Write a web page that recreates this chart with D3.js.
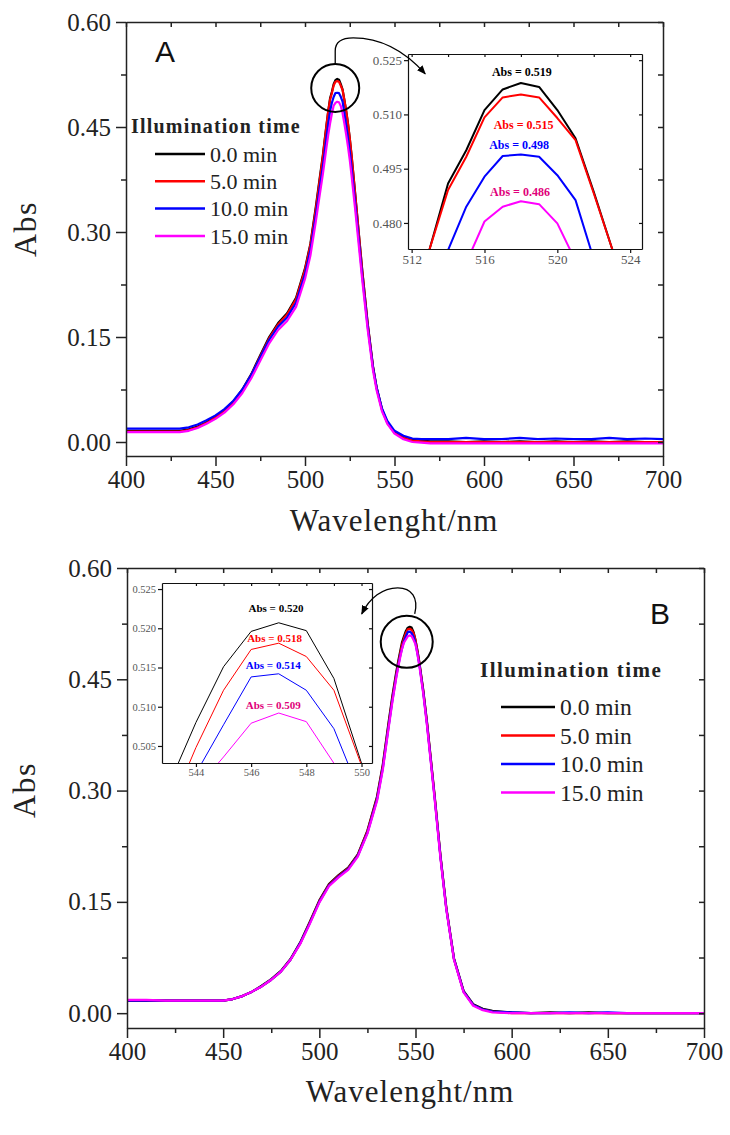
<!DOCTYPE html>
<html><head><meta charset="utf-8">
<script src="https://cdn.jsdelivr.net/npm/d3@7"></script>
<style>body{margin:0;background:#fff;} svg{display:block;}</style>
</head><body>
<svg id="chart" width="730" height="1135"></svg>
<script>
// ---------------- DATA ----------------
const seriesNames = ["0.0 min", "5.0 min", "10.0 min", "15.0 min"];
const seriesColors = ["#000000", "#ff0000", "#0000ff", "#ff00ff"];
const annotColors = ["#000000", "#ff0000", "#0000ff", "#e0007a"];
const legendTitle = "Illumination time";

const xTicks = [400, 450, 500, 550, 600, 650, 700];
const xMinor = [425, 475, 525, 575, 625, 675];
const yTicks = [0.00, 0.15, 0.30, 0.45, 0.60];
const yMinor = [0.075, 0.225, 0.375, 0.525];

// Panel A spectra
const wlA = [400,410,420,430,435,440,445,450,455,460,465,470,475,480,485,490,495,500,503,506,508,510,511,512,
  513,514,515,516,517,518,519,520,521,522,523,524,525,526,528,530,532,535,538,540,543,546,550,555,560,565,570,
  580,590,600,610,620,630,640,650,660,670,680,690,700];
const absA0 = [.016,.016,.016,.016,.018,.022,.028,.036,.046,.058,.075,.097,.124,.150,.170,.184,.206,.248,.283,.335,.373,.410,.432,.453,
  .473,.4909,.5001,.5112,.5169,.5187,.5176,.5112,.5034,.4886,.473,.455,.434,.410,.356,.300,.245,.170,.108,.078,.047,.028,.014,.007,.003,.002,.001,
  .001,.000,.001,.000,.001,.000,.001,.000,.001,.000,.001,.000,.000];
const absA5 = [.015,.015,.015,.015,.017,.021,.027,.035,.045,.057,.074,.096,.122,.148,.168,.182,.204,.246,.281,.332,.370,.408,.430,.452,
  .473,.4891,.4983,.5092,.5147,.5155,.5147,.5090,.5029,.4882,.473,.455,.434,.410,.355,.299,.244,.169,.107,.077,.046,.027,.013,.006,.002,.001,.000,
  .000,.000,.000,.000,.000,.000,.000,.000,.000,.000,.000,.000,.000];
const absA10 = [.019,.019,.019,.019,.021,.025,.031,.038,.047,.059,.075,.096,.121,.146,.165,.178,.199,.240,.274,.323,.359,.394,.414,.436,
  .455,.4725,.4845,.4928,.4985,.4989,.4983,.4932,.4863,.470,.453,.435,.415,.392,.342,.290,.237,.166,.106,.078,.048,.030,.016,.009,.005,.004,.004,
  .004,.006,.004,.004,.006,.004,.005,.004,.004,.006,.004,.005,.004];
const absA15 = [.014,.014,.014,.014,.016,.020,.026,.033,.042,.054,.070,.091,.116,.141,.160,.173,.193,.233,.266,.314,.349,.383,.402,.421,
  .439,.455,.469,.4804,.4845,.4860,.4852,.4799,.4695,.455,.439,.422,.403,.381,.333,.282,.231,.161,.102,.074,.044,.026,.012,.004,.000,-.001,-.002,
  -.002,-.002,-.002,-.002,-.002,-.002,-.002,-.002,-.002,-.002,-.002,-.002,-.002];

// Panel B spectra
const wlB = [400,410,420,430,440,450,455,460,465,470,475,480,485,490,495,500,505,510,515,520,525,530,533,536,538,540,
  541,542,543,544,545,546,547,548,549,550,551,552,554,556,558,560,563,566,570,575,580,585,590,600,
  610,620,630,640,650,660,670,680,690,700];
const absB0 = [.017,.017,.017,.017,.017,.017,.019,.023,.029,.037,.046,.057,.073,.095,.123,.152,.174,.186,.196,.214,.246,.292,.335,.392,.428,.460,
  .474,.487,.4999,.5080,.5151,.5196,.5207,.5197,.5136,.5028,.489,.473,.436,.392,.342,.292,.212,.143,.074,.030,.012,.006,.003,.001,
  .000,.001,.000,.001,.000,.000,.000,.000,.000,.000];
const absB5 = [.017,.017,.017,.017,.017,.017,.019,.023,.029,.036,.045,.056,.072,.094,.122,.151,.173,.185,.195,.213,.245,.290,.333,.389,.425,.457,
  .471,.484,.4965,.5048,.5121,.5173,.5181,.5164,.5121,.5025,.488,.472,.435,.391,.341,.291,.211,.142,.073,.029,.011,.005,.002,.000,
  .000,.000,.000,.000,.000,.000,.000,.000,.000,.000];
const absB10 = [.017,.017,.017,.017,.017,.017,.019,.023,.029,.036,.045,.056,.072,.094,.121,.150,.172,.184,.194,.212,.243,.288,.330,.386,.422,.454,
  .468,.481,.4915,.5015,.5077,.5138,.5142,.5121,.5072,.4985,.485,.470,.433,.389,.339,.289,.210,.141,.073,.029,.011,.005,.002,.001,
  .000,.000,.001,.000,.001,.000,.000,.000,.000,.000];
const absB15 = [.018,.018,.017,.017,.017,.017,.019,.023,.029,.036,.045,.056,.072,.093,.120,.149,.171,.183,.193,.211,.242,.286,.328,.384,.420,.452,
  .466,.479,.491,.4995,.5036,.5079,.5092,.5081,.5028,.4970,.484,.468,.431,.387,.337,.287,.208,.140,.072,.028,.010,.004,.001,.000,
  .000,.000,.000,.000,.000,.000,.000,.000,.000,.000];

// Insets
const insetAXTicks = [512, 516, 520, 524];
const insetAXMinor = [514, 518, 522];
const insetAYTicks = [0.480, 0.495, 0.510, 0.525];
const insetBXTicks = [544, 546, 548, 550];
const insetBXMinor = [545, 547, 549];
const insetBYTicks = [0.505, 0.510, 0.515, 0.520, 0.525];
const peakLabelsA = ["Abs = 0.519", "Abs = 0.515", "Abs = 0.498", "Abs = 0.486"];
const peakLabelPosA = [[518.05, 0.5217], [518.15, 0.5071], [517.9, 0.5016], [517.95, 0.4885]];
const peakLabelsB = ["Abs = 0.520", "Abs = 0.518", "Abs = 0.514", "Abs = 0.509"];
const peakLabelPosB = [[546.9, 0.5226], [546.85, 0.5187], [546.8, 0.5153], [546.8, 0.5102]];

// ---------------- DRAW ----------------
const SERIF = "'Liberation Serif','Times New Roman',serif";
const SANS = "'Liberation Sans',Arial,sans-serif";
const svg = d3.select("#chart");
svg.append("rect").attr("width", 730).attr("height", 1135).attr("fill", "#fff");
const defs = svg.append("defs");
defs.append("marker").attr("id", "arrowhead").attr("viewBox", "0 0 10 10")
  .attr("refX", 9).attr("refY", 5).attr("markerWidth", 7).attr("markerHeight", 7)
  .attr("orient", "auto").append("path").attr("d", "M0,1 L10,5 L0,9 z").attr("fill", "#000");

function styleAxis(sel, fs, color) {
  sel.selectAll("path.domain").attr("stroke", "#222").attr("stroke-width", 1.5);
  sel.selectAll(".tick line").attr("stroke", "#222").attr("stroke-width", 1.5);
  sel.selectAll("text").attr("font-family", SERIF).attr("font-size", fs).attr("fill", color || "#222");
}

function drawPanel(p) {
  const g = svg.append("g");
  const x = d3.scaleLinear().domain([400, 700]).range([p.left, p.right]);
  const y = d3.scaleLinear().domain([-0.02, 0.60]).range([p.bottom, p.top]);
  const cid = "clip" + p.id;
  defs.append("clipPath").attr("id", cid).append("rect")
    .attr("x", p.left).attr("y", p.top).attr("width", p.right - p.left).attr("height", p.bottom - p.top);
  const line = d3.line().x(d => x(d[0])).y(d => y(d[1]));
  p.series.forEach((s, i) => {
    g.append("path").datum(p.wl.map((w, j) => [w, s[j]]))
      .attr("d", line).attr("fill", "none").attr("stroke", seriesColors[i])
      .attr("stroke-width", 2.2).attr("stroke-linejoin", "round").attr("clip-path", `url(#${cid})`);
  });
  const ax = g.append("g");
  const left = ax.append("g").attr("transform", `translate(${p.left},0)`)
    .call(d3.axisLeft(y).tickValues(yTicks).tickSize(10).tickSizeOuter(0).tickPadding(5).tickFormat(d3.format(".2f")));
  styleAxis(left, 25);
  const leftMin = ax.append("g").attr("transform", `translate(${p.left},0)`)
    .call(d3.axisLeft(y).tickValues(yMinor).tickSize(5).tickSizeOuter(0).tickFormat(""));
  styleAxis(leftMin, 25); leftMin.select("path.domain").remove();
  const bottom = ax.append("g").attr("transform", `translate(0,${p.bottom})`)
    .call(d3.axisBottom(x).tickValues(xTicks).tickSize(10).tickSizeOuter(0).tickPadding(4).tickFormat(d3.format("d")));
  styleAxis(bottom, 25);
  const bottomMin = ax.append("g").attr("transform", `translate(0,${p.bottom})`)
    .call(d3.axisBottom(x).tickValues(xMinor).tickSize(5).tickSizeOuter(0).tickFormat(""));
  styleAxis(bottomMin, 25); bottomMin.select("path.domain").remove();
  const top = ax.append("g").attr("transform", `translate(0,${p.top})`)
    .call(d3.axisBottom(x).tickValues(xTicks.concat(xMinor)).tickSize(5).tickSizeOuter(0).tickFormat(""));
  styleAxis(top, 25);
  const right = ax.append("g").attr("transform", `translate(${p.right},0)`)
    .call(d3.axisLeft(y).tickValues(yTicks.concat(yMinor)).tickSize(5).tickSizeOuter(0).tickFormat(""));
  styleAxis(right, 25);
  g.append("text").attr("x", p.xTitleX).attr("y", p.xTitleY).attr("text-anchor", "middle")
    .attr("font-family", SERIF).attr("font-size", 31).attr("letter-spacing", 1).attr("fill", "#222").text("Wavelenght/nm");
  g.append("text").attr("transform", `translate(${p.yTitleX},${p.yTitleY}) rotate(-90)`).attr("text-anchor", "middle")
    .attr("font-family", SERIF).attr("font-size", 32).attr("letter-spacing", 1.5).attr("fill", "#222").text("Abs");
  g.append("text").attr("x", p.letterX).attr("y", p.letterY).attr("font-family", SANS).attr("font-size", 30)
    .attr("fill", "#111").text(p.letter);
  const lg = g.append("g");
  lg.append("text").attr("x", p.leg.titleX).attr("y", p.leg.titleY).attr("font-family", SERIF)
    .attr("font-weight", "bold").attr("font-size", p.leg.titleFs).attr("letter-spacing", p.leg.ls).attr("fill", "#222").text(legendTitle);
  seriesNames.forEach((n, i) => {
    const yy = p.leg.y0 + i * p.leg.dy;
    lg.append("line").attr("x1", p.leg.lx0).attr("x2", p.leg.lx1).attr("y1", yy).attr("y2", yy)
      .attr("stroke", seriesColors[i]).attr("stroke-width", 2.5);
    lg.append("text").attr("x", p.leg.lx1 + 5).attr("y", yy).attr("dy", "0.35em").attr("font-family", SERIF)
      .attr("font-size", p.leg.fs).attr("fill", "#222").text(n);
  });
  return {x, y};
}

function drawInset(p, ins) {
  const g = svg.append("g");
  const x = d3.scaleLinear().domain(ins.xd).range([ins.l, ins.r]);
  const y = d3.scaleLinear().domain(ins.yd).range([ins.b, ins.t]);
  g.append("rect").attr("x", ins.l).attr("y", ins.t).attr("width", ins.r - ins.l).attr("height", ins.b - ins.t).attr("fill", "#fff");
  const cid = "iclip" + p.id;
  defs.append("clipPath").attr("id", cid).append("rect")
    .attr("x", ins.l).attr("y", ins.t).attr("width", ins.r - ins.l).attr("height", ins.b - ins.t);
  const line = d3.line().x(d => x(d[0])).y(d => y(d[1]));
  p.series.forEach((s, i) => {
    g.append("path").datum(p.wl.map((w, j) => [w, s[j]]))
      .attr("d", line).attr("fill", "none").attr("stroke", seriesColors[i])
      .attr("stroke-width", ins.sw).attr("stroke-linejoin", "round").attr("clip-path", `url(#${cid})`);
  });
  const st = (sel) => {
    sel.selectAll("path.domain").attr("stroke", "#111").attr("stroke-width", 1.2);
    sel.selectAll(".tick line").attr("stroke", "#111").attr("stroke-width", 1.2);
    sel.selectAll("text").attr("font-family", SERIF).attr("font-size", ins.fs).attr("fill", "#555");
  };
  const fmt = d3.format(".3f");
  const b = g.append("g").attr("transform", `translate(0,${ins.b})`)
    .call(d3.axisBottom(x).tickValues(ins.xt).tickSize(4).tickSizeOuter(0).tickPadding(2).tickFormat(d3.format("d")));
  st(b);
  const l = g.append("g").attr("transform", `translate(${ins.l},0)`)
    .call(d3.axisLeft(y).tickValues(ins.yt).tickSize(4).tickSizeOuter(0).tickPadding(2).tickFormat(fmt));
  st(l);
  const t = g.append("g").attr("transform", `translate(0,${ins.t})`)
    .call(d3.axisBottom(x).tickValues(ins.xt.concat(ins.xm)).tickSize(3).tickSizeOuter(0).tickFormat(""));
  st(t);
  const r = g.append("g").attr("transform", `translate(${ins.r},0)`)
    .call(d3.axisLeft(y).tickValues(ins.yt).tickSize(3).tickSizeOuter(0).tickFormat(""));
  st(r);
  ins.labels.forEach((txt, i) => {
    g.append("text").attr("x", x(ins.labelPos[i][0])).attr("y", y(ins.labelPos[i][1])).attr("dy", "0.35em")
      .attr("text-anchor", "middle").attr("font-family", SERIF).attr("font-weight", "bold")
      .attr("font-size", ins.lfs).attr("fill", annotColors[i]).text(txt);
  });
}

// Panel A
const pA = {id: "A", left: 126, right: 663, top: 22, bottom: 456, wl: wlA, series: [absA0, absA5, absA10, absA15],
  xTitleX: 394, xTitleY: 531, yTitleX: 36, yTitleY: 229, letter: "A", letterX: 155, letterY: 62,
  leg: {titleX: 131, titleY: 133, titleFs: 20, ls: 1.2, y0: 154, dy: 27.3, lx0: 155, lx1: 205, fs: 22}};
const sA = drawPanel(pA);
drawInset(pA, {l: 408, r: 642, t: 54, b: 249, xd: [511.8, 524.65], yd: [0.4728, 0.5267],
  xt: insetAXTicks, xm: insetAXMinor, yt: insetAYTicks, sw: 2, fs: 13, lfs: 12,
  labels: peakLabelsA, labelPos: peakLabelPosA});

// Panel B
const pB = {id: "B", left: 127, right: 704, top: 568, bottom: 1028, wl: wlB, series: [absB0, absB5, absB10, absB15],
  xTitleX: 410, xTitleY: 1102, yTitleX: 35, yTitleY: 790, letter: "B", letterX: 650, letterY: 624,
  leg: {titleX: 480, titleY: 677, titleFs: 21, ls: 1.5, y0: 707, dy: 28.5, lx0: 501, lx1: 555, fs: 23.5}};
const sB = drawPanel(pB);
drawInset(pB, {l: 162, r: 372, t: 583, b: 763, xd: [542.77, 550.38], yd: [0.50283, 0.52577],
  xt: insetBXTicks, xm: insetBXMinor, yt: insetBYTicks, sw: 1, fs: 10.5, lfs: 11,
  labels: peakLabelsB, labelPos: peakLabelPosB});

// Circles + arrows highlighting the peak region
const peakA = [518, d3.max(absA0)];
const cAx = sA.x(peakA[0]) - 2, cAy = sA.y(peakA[1]) + 9;
svg.append("circle").attr("cx", cAx).attr("cy", cAy).attr("r", 24).attr("fill", "none").attr("stroke", "#000").attr("stroke-width", 2);
svg.append("path").attr("d", `M${cAx},${cAy - 24} L${cAx},${cAy - 37} Q${cAx},${cAy - 50} ${cAx + 18},${cAy - 50} Q${cAx + 58},${cAy - 50} ${cAx + 90},${cAy - 14}`)
  .attr("fill", "none").attr("stroke", "#000").attr("stroke-width", 1.3).attr("marker-end", "url(#arrowhead)");

const peakB = [547, d3.max(absB0)];
const cBx = sB.x(peakB[0]) - 3, cBy = sB.y(peakB[1]) + 15;
svg.append("circle").attr("cx", cBx).attr("cy", cBy).attr("r", 26).attr("fill", "none").attr("stroke", "#000").attr("stroke-width", 2);
svg.append("path").attr("d", `M${cBx + 8},${cBy - 28} C${cBx + 12},${cBy - 44} ${cBx + 5},${cBy - 54} ${cBx - 9},${cBy - 54} C${cBx - 24},${cBy - 54} ${cBx - 37},${cBy - 44} ${cBx - 45},${cBy - 28}`)
  .attr("fill", "none").attr("stroke", "#000").attr("stroke-width", 1.3).attr("marker-end", "url(#arrowhead)");
</script>
</body></html>
